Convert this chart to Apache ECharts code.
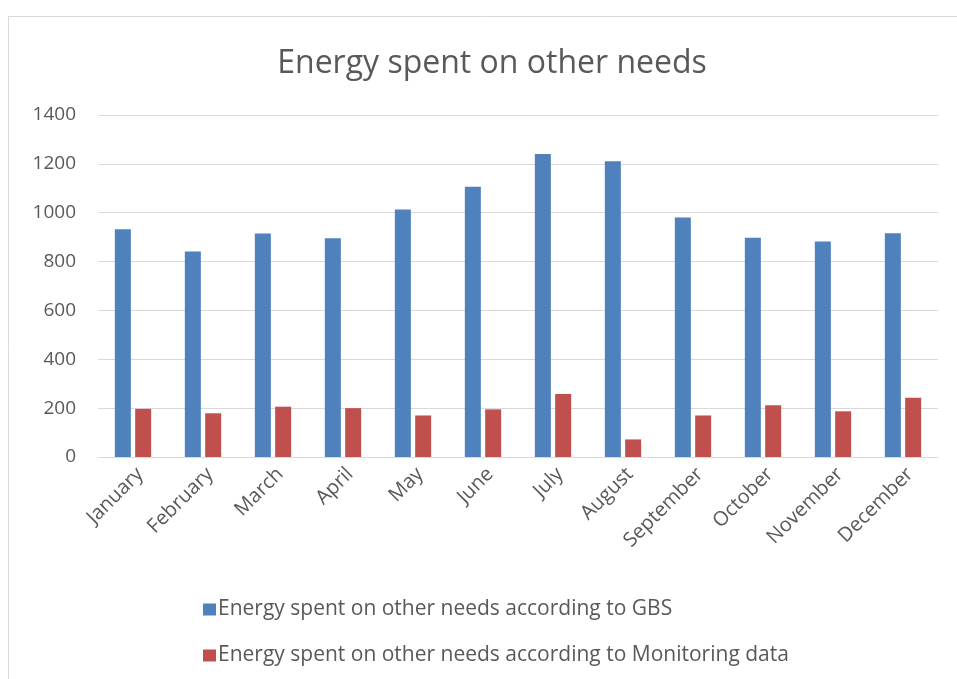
<!DOCTYPE html>
<html><head><meta charset="utf-8">
<script src="https://cdn.jsdelivr.net/npm/echarts@6/dist/echarts.min.js"></script>
<style>html,body{margin:0;padding:0;background:#fff}#c{width:957px;height:679px}</style>
</head><body><div id="c"></div>
<script>
const months = ['January','February','March','April','May','June','July','August','September','October','November','December'];
const gbs = [932, 841, 915, 895, 1013, 1106, 1240, 1211, 980, 898, 882, 916];
const monitoring = [197, 179, 206, 200, 170, 195, 258, 72, 170, 212, 187, 243];
const seriesNames = ['Energy spent on other needs according to GBS','Energy spent on other needs according to Monitoring data'];
const yTicks = {min: 0, max: 1400, interval: 200};
const font = 'Open Sans';
const chart = echarts.init(document.getElementById('c'), null, {renderer: 'canvas'});
chart.setOption({
  backgroundColor: '#fff',
  animation: false,
  graphic: [{type: 'rect', shape: {x: 8.5, y: 16.5, width: 1000, height: 700}, style: {fill: 'none', stroke: '#d9d9d9', lineWidth: 1}, silent: true}],
  title: {text: 'Energy spent on other needs', left: 487, textAlign: 'center', top: 43,
    textStyle: {fontFamily: font, fontSize: 32, fontWeight: 'normal', color: '#595959'}},
  grid: {left: 98, right: 19, top: 115, bottom: 222, containLabel: false},
  legend: {orient: 'vertical', left: 198, top: 594, itemGap: 25, itemWidth: 13, itemHeight: 12,
    icon: 'rect', textStyle: {fontFamily: font, fontSize: 21, color: '#595959', padding: [0,0,0,-3]},
    data: seriesNames},
  xAxis: {type: 'category', data: months,
    axisLine: {lineStyle: {color: '#d9d9d9', width: 1}}, axisTick: {show: false},
    axisLabel: {rotate: 45, interval: 0, fontFamily: font, fontSize: 20, color: '#595959', margin: 7, verticalAlign: 'top'}},
  yAxis: {type: 'value', min: yTicks.min, max: yTicks.max, interval: yTicks.interval,
    axisLine: {show: false}, axisTick: {show: false},
    splitLine: {lineStyle: {color: '#d9d9d9', width: 1}},
    axisLabel: {fontFamily: font, fontSize: 19, color: '#595959', margin: 22, formatter: v => String(v)}},
  series: [
    {name: seriesNames[0], type: 'bar', data: gbs, barWidth: 16, barGap: '27%', itemStyle: {color: '#4f81bd'}},
    {name: seriesNames[1], type: 'bar', data: monitoring, barWidth: 16, barGap: '27%', itemStyle: {color: '#c0504d'}}
  ]
});
</script></body></html>
